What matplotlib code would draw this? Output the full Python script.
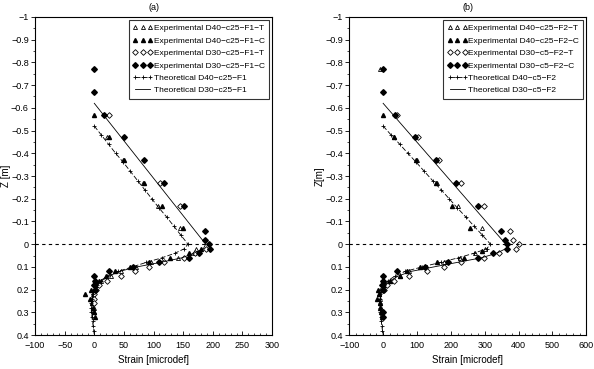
import numpy as np
import matplotlib
matplotlib.use("Agg")
import matplotlib.pyplot as plt
from matplotlib.ticker import MultipleLocator

plt.rcParams['font.family'] = ['Liberation Sans', 'DejaVu Sans']
plt.rcParams['axes.unicode_minus'] = True

# ---------------- panel (a) ----------------
a_z_t40 = [-0.52, -0.48, -0.44, -0.40, -0.36, -0.32, -0.28, -0.24, -0.20, -0.16, -0.12, -0.08, -0.04, 0.0,
           0.02, 0.04, 0.06, 0.08, 0.10, 0.12, 0.14, 0.16, 0.18, 0.20, 0.22, 0.24, 0.26, 0.28, 0.30,
           0.32, 0.34, 0.36, 0.38, 0.40]
a_s_t40 = [0, 12, 24, 36, 49, 61, 73, 85, 97, 109, 122, 134, 146, 158,
           152, 136, 114, 88, 64, 40, 22, 11, 5, 1, -2, -4, -5, -5, -5,
           -4, -3, -2, -1, 0]
a_z_t30 = [-0.62, 0.0, 0.02, 0.04, 0.06, 0.08, 0.10, 0.12, 0.14, 0.16, 0.18, 0.20, 0.22, 0.24, 0.28, 0.32]
a_s_t30 = [0, 188, 184, 168, 148, 112, 72, 42, 25, 13, 6, 2, -2, -4, -4, -3]

a_z_40T = [-0.47, -0.37, -0.27, -0.17, -0.07, 0.02, 0.04, 0.06, 0.08, 0.10, 0.12, 0.14, 0.16, 0.18,
           0.20, 0.22, 0.24, 0.26, 0.28, 0.30]
a_s_40T = [22, 48, 82, 108, 145, 172, 168, 142, 95, 70, 45, 28, 12, 4, 0, -3, -3, -2, -1, 0]
a_z_40C = [-0.57, -0.47, -0.37, -0.27, -0.17, -0.07, 0.02, 0.04, 0.06, 0.08, 0.10, 0.12, 0.14, 0.16,
           0.18, 0.20, 0.22, 0.24, 0.26, 0.28, 0.30, 0.32]
a_s_40C = [0, 25, 50, 84, 114, 150, 180, 160, 128, 92, 60, 35, 20, 8, 2, -5, -15, -8, -4, -2, 0, 2]
a_z_30T = [-0.57, -0.27, -0.17, 0.02, 0.04, 0.06, 0.08, 0.10, 0.12, 0.14, 0.16, 0.18, 0.20, 0.22, 0.24, 0.26]
a_s_30T = [24, 111, 145, 188, 170, 152, 118, 93, 68, 45, 22, 8, 3, 0, -1, 0]
a_z_30C = [-0.77, -0.67, -0.57, -0.47, -0.37, -0.27, -0.17, -0.06, -0.02, 0.0, 0.02, 0.04, 0.06, 0.08,
           0.10, 0.12, 0.14, 0.16, 0.18, 0.20]
a_s_30C = [0, 0, 17, 50, 84, 118, 152, 186, 186, 194, 195, 177, 160, 110, 66, 25, 0, 1, 0, 2]

# ---------------- panel (b) ----------------
b_z_t40 = a_z_t40
b_s_t40 = [0, 24, 49, 73, 98, 122, 146, 171, 195, 219, 244, 268, 293, 317,
           306, 268, 222, 170, 115, 65, 35, 15, 3, -5, -9, -10, -10, -9, -8,
           -7, -5, -4, -2, 0]
b_z_t30 = [-0.62, 0.01, 0.02, 0.04, 0.06, 0.08, 0.10, 0.12, 0.14, 0.16, 0.18, 0.20, 0.22, 0.24, 0.28, 0.32]
b_s_t30 = [0, 368, 362, 335, 290, 220, 150, 82, 45, 22, 8, 0, -6, -8, -7, -5]

b_z_40T = [-0.77, -0.47, -0.37, -0.27, -0.17, -0.07, 0.02, 0.04, 0.06, 0.08, 0.10, 0.12, 0.14, 0.16,
           0.18, 0.20, 0.22, 0.24, 0.26, 0.28]
b_s_40T = [-8, 33, 100, 159, 221, 292, 300, 270, 228, 180, 125, 75, 50, 20, 5, -8, -12, -10, -8, -5]
b_z_40C = [-0.57, -0.47, -0.37, -0.27, -0.17, -0.07, 0.03, 0.06, 0.08, 0.10, 0.12, 0.14, 0.16, 0.18,
           0.20, 0.22, 0.24, 0.26, 0.28, 0.30, 0.32]
b_s_40C = [0, 33, 97, 155, 204, 258, 292, 240, 160, 110, 71, 51, 20, 5, -15, -12, -18, -10, -8, -5, -3]
b_z_30T = [-0.57, -0.47, -0.37, -0.27, -0.17, -0.06, -0.02, 0.0, 0.02, 0.04, 0.06, 0.08, 0.10, 0.12,
           0.14, 0.16, 0.18, 0.20]
b_s_30T = [41, 102, 164, 230, 299, 376, 384, 401, 391, 342, 299, 230, 179, 130, 76, 32, 12, 2]
b_z_30C = [-0.77, -0.67, -0.57, -0.47, -0.37, -0.27, -0.17, -0.06, -0.02, 0.0, 0.02, 0.04, 0.06, 0.08,
           0.10, 0.12, 0.14, 0.16, 0.18, 0.20, 0.30, 0.32]
b_s_30C = [0, 0, 36, 95, 155, 214, 281, 347, 359, 366, 366, 325, 281, 191, 125, 41, 0, 0, -2, 0, 0, 0]

labels_a = ['Experimental D40\u2212c25\u2212F1\u2212T', 'Experimental D40\u2212c25\u2212F1\u2212C',
            'Experimental D30\u2212c25\u2212F1\u2212T', 'Experimental D30\u2212c25\u2212F1\u2212C',
            'Theoretical D40\u2212c25\u2212F1', 'Theoretical D30\u2212c25\u2212F1']
labels_b = ['Experimental D40\u2212c25\u2212F2\u2212T', 'Experimental D40\u2212c25\u2212F2\u2212C',
            'Experimental D30\u2212c5\u2212F2\u2212T', 'Experimental D30\u2212c5\u2212F2\u2212C',
            'Theoretical D40\u2212c5\u2212F2', 'Theoretical D30\u2212c5\u2212F2']

fig = plt.figure(figsize=(5.94, 3.69), dpi=100)
ax1 = fig.add_axes([0.059, 0.092, 0.399, 0.862])
ax2 = fig.add_axes([0.588, 0.092, 0.399, 0.862])


def draw(ax, d, labels, xlim, xmaj, xmin, title, ylab):
    ms = 2.9
    ax.plot(d[0][1], d[0][0], ls='none', marker='^', mfc='white', mec='k', mew=0.6, ms=ms, label=labels[0])
    ax.plot(d[1][1], d[1][0], ls='none', marker='^', mfc='k', mec='k', ms=ms, label=labels[1])
    ax.plot(d[2][1], d[2][0], ls='none', marker='D', mfc='white', mec='k', mew=0.6, ms=ms, label=labels[2])
    ax.plot(d[3][1], d[3][0], ls='none', marker='D', mfc='k', mec='k', ms=ms, label=labels[3])
    ax.plot(d[4][1], d[4][0], color='k', ls=(0, (6, 2.5)), lw=0.6, marker='+', ms=3.2, mew=0.6, label=labels[4])
    ax.plot(d[5][1], d[5][0], color='k', ls='-', lw=0.6, label=labels[5])
    ax.axhline(0, color='k', ls=(0, (3, 3)), lw=0.8)
    ax.set_xlim(*xlim)
    ax.set_ylim(0.4, -1)
    ax.xaxis.set_major_locator(MultipleLocator(xmaj))
    ax.xaxis.set_minor_locator(MultipleLocator(xmin))
    ax.yaxis.set_major_locator(MultipleLocator(0.1))
    ax.yaxis.set_minor_locator(MultipleLocator(0.05))
    ax.set_yticklabels([('0' if abs(v) < 1e-9 else ('\u22121' if abs(v + 1) < 1e-9 else
                         ('\u2212' if v < 0 else '') + ('%g' % abs(v))))
                        for v in ax.get_yticks()])
    ax.tick_params(axis='x', direction='in', labelsize=6.5, length=3, width=0.6, pad=4)
    ax.tick_params(axis='x', which='minor', direction='in', length=1.5, width=0.5)
    ax.tick_params(axis='y', direction='out', labelsize=6.5, length=3, width=0.6, pad=1.5)
    ax.tick_params(axis='y', which='minor', direction='out', length=1.5, width=0.5)
    for sp in ax.spines.values():
        sp.set_linewidth(0.8)
    ax.set_xlabel('Strain [microdef]', fontsize=7, labelpad=4)
    ax.set_ylabel(ylab, fontsize=7, labelpad=0)
    ax.set_title(title, fontsize=6.5, pad=5)
    leg = ax.legend(loc='upper right', numpoints=3, fontsize=6, frameon=True, fancybox=False,
                    edgecolor='k', borderpad=0.5, labelspacing=0.55, handlelength=2.4,
                    handletextpad=0.1, borderaxespad=0.4)
    leg.get_frame().set_linewidth(0.8)


da = [(a_z_40T, a_s_40T), (a_z_40C, a_s_40C), (a_z_30T, a_s_30T), (a_z_30C, a_s_30C),
      (a_z_t40, a_s_t40), (a_z_t30, a_s_t30)]
db = [(b_z_40T, b_s_40T), (b_z_40C, b_s_40C), (b_z_30T, b_s_30T), (b_z_30C, b_s_30C),
      (b_z_t40, b_s_t40), (b_z_t30, b_s_t30)]

draw(ax1, da, labels_a, (-100, 300), 50, 10, '(a)', 'Z [m]')
draw(ax2, db, labels_b, (-100, 600), 100, 20, '(b)', 'Z[m]')

fig.savefig('out.png', dpi=100)
